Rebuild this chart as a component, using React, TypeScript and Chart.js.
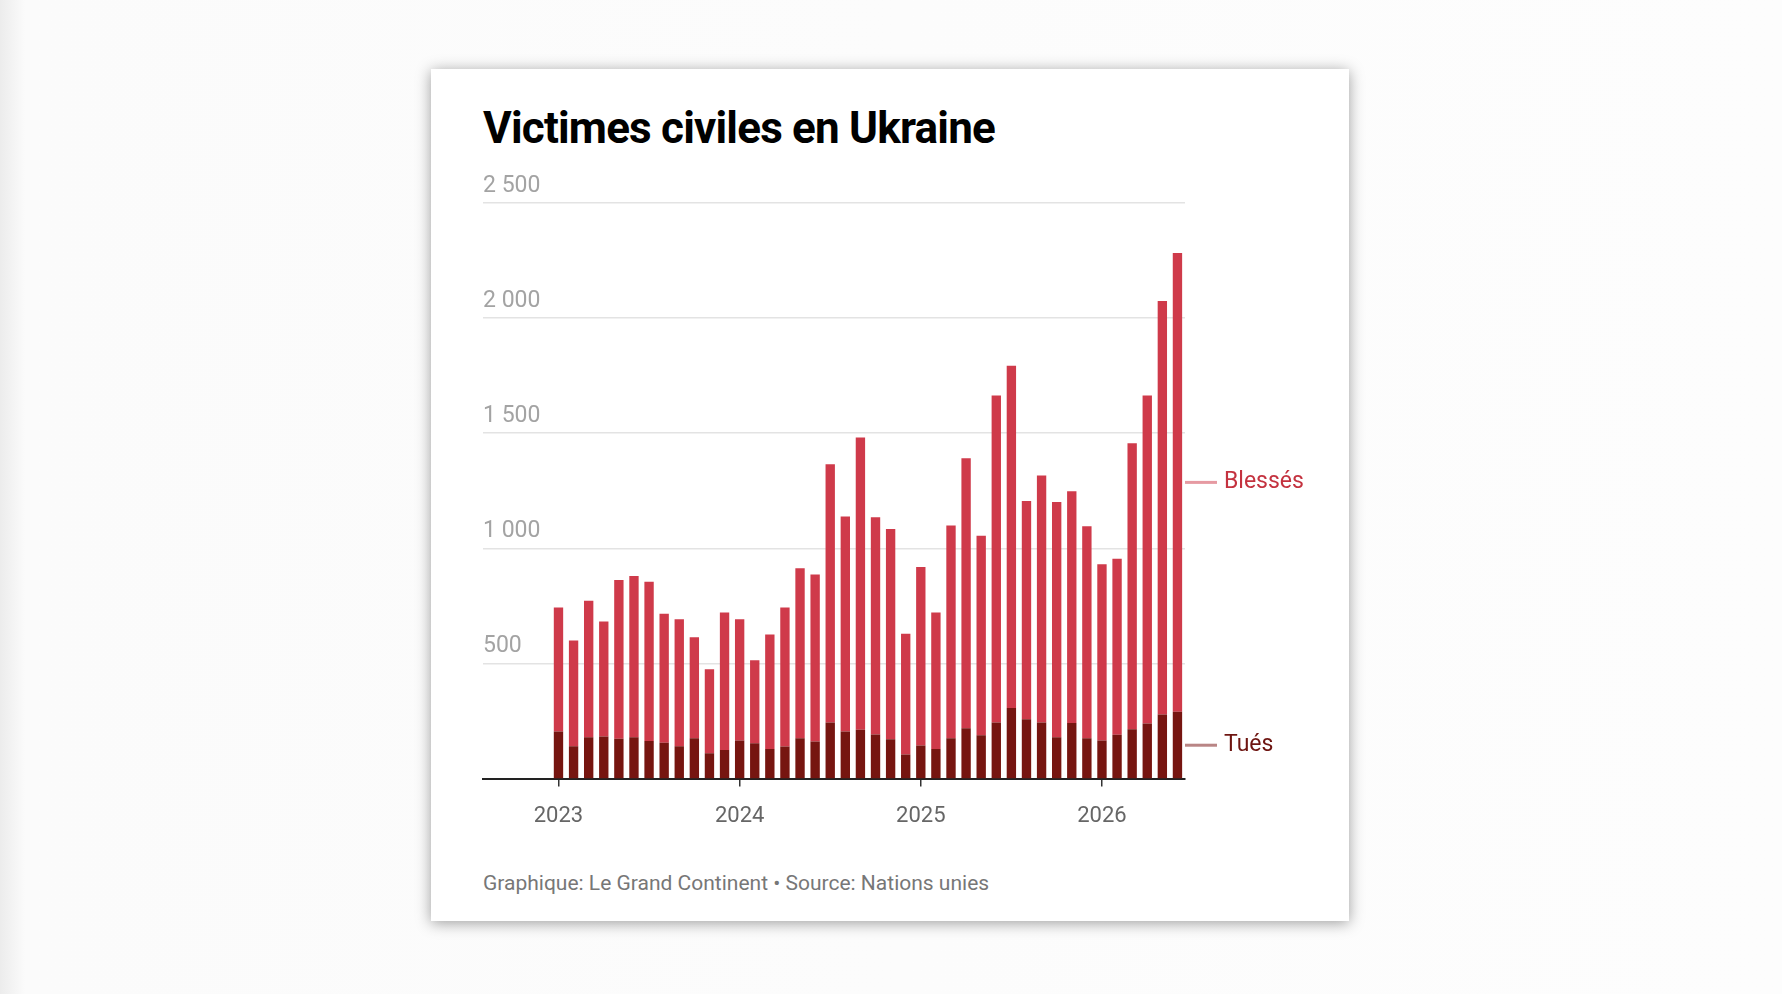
import React, { useEffect, useRef } from 'react';
import { Chart, registerables } from 'chart.js';

Chart.register(...registerables);

// --- data ---
const months = [
  '2023-01', '2023-02', '2023-03', '2023-04', '2023-05', '2023-06', '2023-07', '2023-08', '2023-09', '2023-10', '2023-11', '2023-12',
  '2024-01', '2024-02', '2024-03', '2024-04', '2024-05', '2024-06', '2024-07', '2024-08', '2024-09', '2024-10', '2024-11', '2024-12',
  '2025-01', '2025-02', '2025-03', '2025-04', '2025-05', '2025-06', '2025-07', '2025-08', '2025-09', '2025-10', '2025-11', '2025-12',
  '2026-01', '2026-02', '2026-03', '2026-04', '2026-05', '2026-06',
];

// tués (partie foncée)
const tues = [
  205, 141, 180, 183, 173, 180, 163, 156, 141, 175, 110, 124,
  166, 154, 129, 139, 175, 161, 244, 205, 212, 192, 171, 105,
  144, 129, 175, 219, 188, 244, 307, 258, 244, 180, 241, 175,
  166, 190, 214, 239, 278, 290,
];

// blessés (empilés au-dessus des tués)
const blesses = [
  538, 459, 592, 499, 690, 700, 692, 560, 551, 439, 365, 597,
  526, 360, 497, 604, 739, 726, 1121, 933, 1269, 943, 913, 524,
  775, 592, 924, 1172, 867, 1420, 1486, 948, 1072, 1021, 1007, 921,
  765, 765, 1243, 1425, 1796, 1993,
];

const yearTicks = [0, 12, 24, 36];
const yearLabels = ['2023', '2024', '2025', '2026'];
const yTicks = [500, 1000, 1500, 2000, 2500];

const RED = '#cf3a4a';
const DARK = '#761510';

const fmt = (v: number) => (v >= 1000 ? `${Math.floor(v / 1000)} ${String(v % 1000).padStart(3, '0')}` : String(v));

// étiquettes à droite de la dernière barre
const endLabels = {
  id: 'endLabels',
  afterDraw(chart: any) {
    const { ctx, chartArea, scales } = chart;
    const last = months.length - 1;
    const y = scales.y;
    const items = [
      { text: 'Tués', mid: tues[last] / 2, line: '#b98585', color: '#6e1511' },
      { text: 'Blessés', mid: tues[last] + blesses[last] / 2, line: '#e69aa2', color: '#c4323f' },
    ];
    ctx.save();
    ctx.font = '23px Roboto';
    ctx.textBaseline = 'middle';
    ctx.textAlign = 'left';
    items.forEach((it) => {
      const py = y.getPixelForValue(it.mid);
      ctx.strokeStyle = it.line;
      ctx.lineWidth = 3;
      ctx.beginPath();
      ctx.moveTo(chartArea.right, py);
      ctx.lineTo(chartArea.right + 32, py);
      ctx.stroke();
      ctx.fillStyle = it.color;
      ctx.fillText(it.text, chartArea.right + 39, py);
    });
    ctx.restore();
  },
};

function VictimesChart() {
  const canvasRef = useRef<HTMLCanvasElement>(null);

  useEffect(() => {
    const ctx = canvasRef.current?.getContext('2d');
    if (!ctx) return;
    Chart.defaults.font.family = 'Roboto';

    const chart = new Chart(ctx, {
      type: 'bar',
      data: {
        datasets: [
          {
            label: 'Tués',
            data: tues.map((v, i) => ({ x: i, y: v })),
            backgroundColor: DARK,
            barPercentage: 0.62,
            categoryPercentage: 1,
          },
          {
            label: 'Blessés',
            data: blesses.map((v, i) => ({ x: i, y: v })),
            backgroundColor: RED,
            barPercentage: 0.62,
            categoryPercentage: 1,
          },
        ],
      },
      options: {
        animation: false,
        responsive: false,
        maintainAspectRatio: false,
        layout: { padding: { left: 10, right: 150, top: 43, bottom: 3 } },
        plugins: { legend: { display: false }, tooltip: { enabled: false } },
        scales: {
          x: {
            type: 'linear',
            stacked: true,
            offset: false,
            min: -5,
            max: 41.5,
            afterBuildTicks: (axis: any) => {
              axis.ticks = yearTicks.map((value) => ({ value }));
            },
            ticks: {
              callback: (_v: any, i: number) => yearLabels[i],
              color: '#666',
              font: { size: 22 },
              padding: 17,
              maxRotation: 0,
              autoSkip: false,
            },
            grid: { offset: false, drawOnChartArea: false, drawTicks: true, tickLength: 8, color: '#333', lineWidth: 1.5 },
            border: { display: true, color: '#222', width: 2 },
          },
          y: {
            stacked: true,
            min: 0,
            max: 2500,
            afterBuildTicks: (axis: any) => {
              axis.ticks = yTicks.map((value) => ({ value }));
            },
            ticks: {
              mirror: true,
              padding: 0,
              labelOffset: -17,
              color: '#a3a3a3',
              font: { size: 23 },
              callback: (v: any) => fmt(Number(v)),
            },
            grid: { color: '#e3e3e3', lineWidth: 1.5, drawTicks: false },
            border: { display: false },
          },
        },
      },
      plugins: [endLabels],
    });

    return () => chart.destroy();
  }, []);

  return <canvas ref={canvasRef} width={862} height={690} style={{ position: 'absolute', left: 42, top: 91 }} />;
}

export default function App() {
  return (
    <div
      style={{
        position: 'fixed',
        inset: 0,
        width: 1782,
        height: 994,
        background: 'linear-gradient(to right, #ececec 0px, #fbfbfb 25px, #fdfdfd 100%)',
        fontFamily: 'Roboto, sans-serif',
      }}
    >
      <div
        style={{
          position: 'absolute',
          left: 431,
          top: 69,
          width: 918,
          height: 852,
          background: '#fff',
          boxShadow: '0 2px 14px rgba(0,0,0,0.38)',
        }}
      >
        <div
          style={{
            position: 'absolute',
            left: 52,
            top: 33,
            fontSize: 44,
            fontWeight: 700,
            color: '#000',
            letterSpacing: -0.8,
            lineHeight: '52px',
            whiteSpace: 'nowrap',
          }}
        >
          Victimes civiles en Ukraine
        </div>
        <VictimesChart />
        <div
          style={{
            position: 'absolute',
            left: 52,
            top: 801,
            fontSize: 21,
            color: '#777',
            lineHeight: '26px',
            whiteSpace: 'nowrap',
          }}
        >
          Graphique: Le Grand Continent • Source: Nations unies
        </div>
      </div>
    </div>
  );
}
